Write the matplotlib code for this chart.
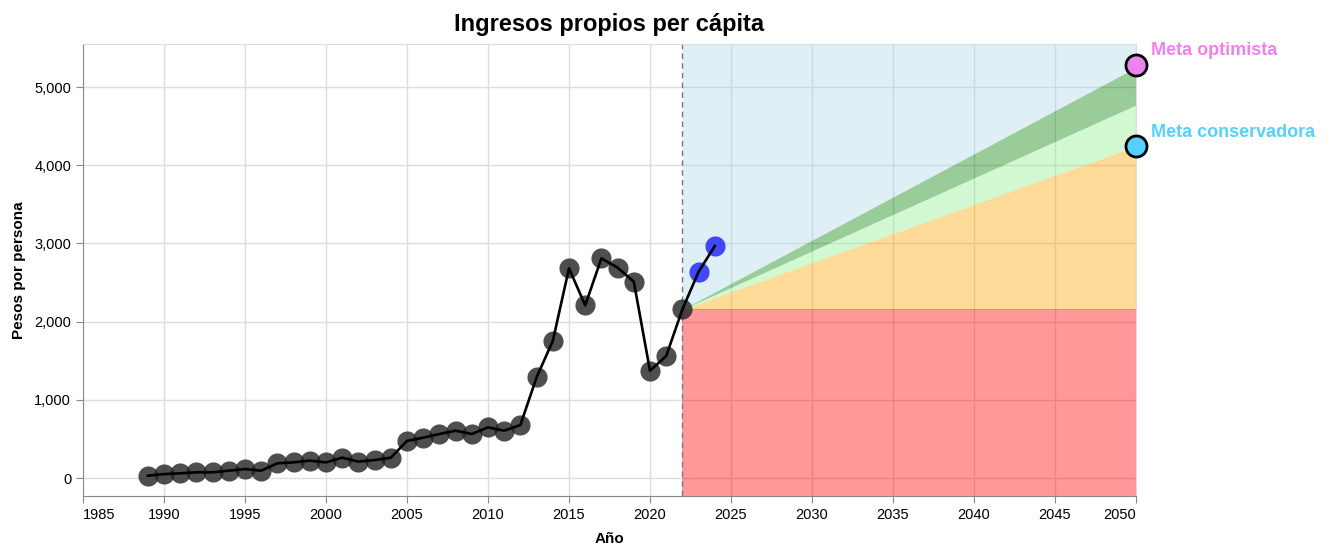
import numpy as np
import matplotlib
matplotlib.use('Agg')
import matplotlib.pyplot as plt
from matplotlib.ticker import FuncFormatter

plt.rcParams['font.family'] = ['Liberation Sans', 'DejaVu Sans']

# datos historicos
anios = list(range(1989, 2023))
ingresos = [30, 50, 60, 73, 73, 94, 115, 94, 188, 200, 222, 200, 260, 210, 230, 260,
            473, 516, 563, 605, 563, 648, 605, 678, 1288, 1752, 2682, 2208, 2809, 2690,
            2511, 1372, 1560, 2157]
anios_recientes = [2023, 2024]
ingresos_recientes = [2638, 2967]

# metas y escenarios
anio_base = 2022
anio_meta = 2050
base = 2157
meta_conservadora = 4245
meta_verde = 4770
meta_optimista_banda = 5250
meta_optimista = 5285

fig = plt.figure(figsize=(13.3, 5.43), dpi=100)
ax = fig.add_axes([83/1330, 1-496/543, (1136-83)/1330, (496-44)/543])
ymin, ymax = -230, 5550
ax.set_xlim(1985, 2050)
ax.set_ylim(ymin, ymax)

xs = [anio_base, anio_meta]
ax.fill_between(xs, [base, meta_optimista_banda], [ymax, ymax], color='#add8e6', alpha=0.4, lw=0, zorder=1)
ax.fill_between(xs, [base, meta_verde], [base, meta_optimista_banda], color='green', alpha=0.4, lw=0, zorder=1)
ax.fill_between(xs, [base, meta_conservadora], [base, meta_verde], color='lightgreen', alpha=0.4, lw=0, zorder=1)
ax.fill_between(xs, [base, base], [base, meta_conservadora], color='orange', alpha=0.4, lw=0, zorder=1)
ax.fill_between(xs, [ymin, ymin], [base, base], color='red', alpha=0.4, lw=0, zorder=1)
ax.axvline(anio_base, color='#777777', ls=(0, (4, 3)), lw=1, zorder=2)

ax.plot(anios + anios_recientes, ingresos + ingresos_recientes, color='black', lw=1.9, zorder=4)
ax.scatter(anios, ingresos, s=210, color='#222222', alpha=0.8, lw=0, zorder=3)
ax.scatter(anios_recientes, ingresos_recientes, s=210, color='blue', alpha=0.7, lw=0, zorder=3)

ax.scatter([anio_meta], [meta_optimista], s=230, color='violet', edgecolor='black', lw=2, zorder=6, clip_on=False)
ax.scatter([anio_meta], [meta_conservadora], s=230, color='#55d0ff', edgecolor='black', lw=2, zorder=6, clip_on=False)
ax.annotate('Meta optimista', (anio_meta, meta_optimista), xytext=(11, 10), textcoords='offset points',
            color='violet', fontsize=13, fontweight='bold', va='center', ha='left')
ax.annotate('Meta conservadora', (anio_meta, meta_conservadora), xytext=(11, 10), textcoords='offset points',
            color='#55d0ff', fontsize=13, fontweight='bold', va='center', ha='left')

ax.set_xticks(range(1985, 2051, 5))
ax.set_yticks(range(0, 5001, 1000))
ax.yaxis.set_major_formatter(FuncFormatter(lambda v, p: f'{int(v):,}'))
ax.grid(True, color='#dddddd', lw=1, zorder=0)
ax.set_axisbelow(True)
for s in ax.spines.values():
    s.set_color('#dddddd')
ax.spines['left'].set_color('#888888')
ax.spines['bottom'].set_color('#888888')
ax.tick_params(axis='both', colors='#888888', labelcolor='black', labelsize=10.5, length=5)
xl = ax.get_xticklabels()
xl[0].set_ha('left')
xl[-1].set_ha('right')

ax.set_xlabel('Año', fontsize=11, fontweight='bold', labelpad=7)
ax.set_ylabel('Pesos por persona', fontsize=11, fontweight='bold', labelpad=6)
ax.set_title('Ingresos propios per cápita', fontsize=17, fontweight='bold', pad=9)

fig.savefig('out.png', dpi=100)
